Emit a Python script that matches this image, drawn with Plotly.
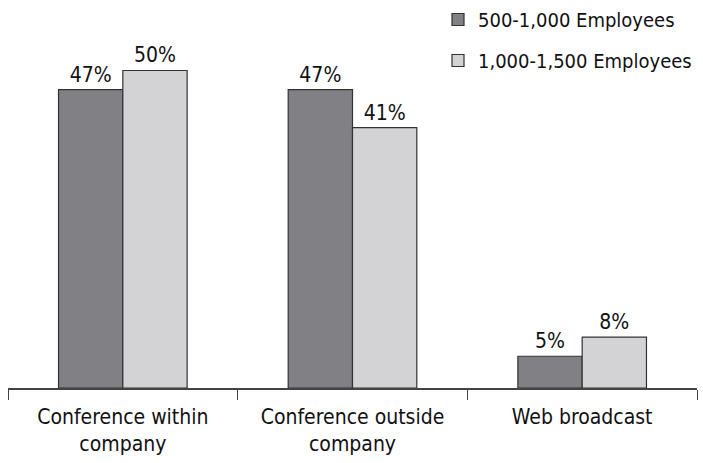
import plotly.graph_objects as go

categories = ["Conference within<br>company", "Conference outside<br>company", "Web broadcast"]
series_names = ["500-1,000 Employees", "1,000-1,500 Employees"]
values_small = [47, 47, 5]
values_large = [50, 41, 8]
colors = ["#808085", "#d3d3d5"]

FONT = "Liberation Sans Narrow, DejaVu Sans Condensed, Arial Narrow, sans-serif"

fig = go.Figure()
for i, (name, vals) in enumerate(zip(series_names, [values_small, values_large])):
    fig.add_trace(go.Bar(
        x=categories, y=vals, name=name,
        marker=dict(color=colors[i], line=dict(color="#333333", width=1.2)),
        text=[f"{v}%" for v in vals], textposition="outside",
        textfont=dict(size=21, color="#111111", family=FONT),
        cliponaxis=False, legendgroup=f"g{i}",
    ))

fig.update_layout(
    width=703, height=463,
    margin=dict(l=8, r=6, t=0, b=75, autoexpand=False),
    barmode="group", bargap=0.44, bargroupgap=0,
    plot_bgcolor="white", paper_bgcolor="white",
    font=dict(family=FONT, size=20, color="#111111"),
    showlegend=True,
    legend=dict(x=1.0, y=1.0, xanchor="right", yanchor="top",
                font=dict(size=20, family=FONT), tracegroupgap=12,
                bgcolor="rgba(0,0,0,0)", itemwidth=30),
    xaxis=dict(showline=True, linecolor="#444444", linewidth=1.5,
               ticks="outside", tickson="boundaries", ticklen=10, tickwidth=1.2,
               tickcolor="#444444", showgrid=False, tickfont=dict(size=21),
               ticklabelstandoff=9, automargin=False),
    yaxis=dict(range=[0, 61.1], visible=False, showgrid=False, zeroline=False),
)

fig.write_html("out.html")
